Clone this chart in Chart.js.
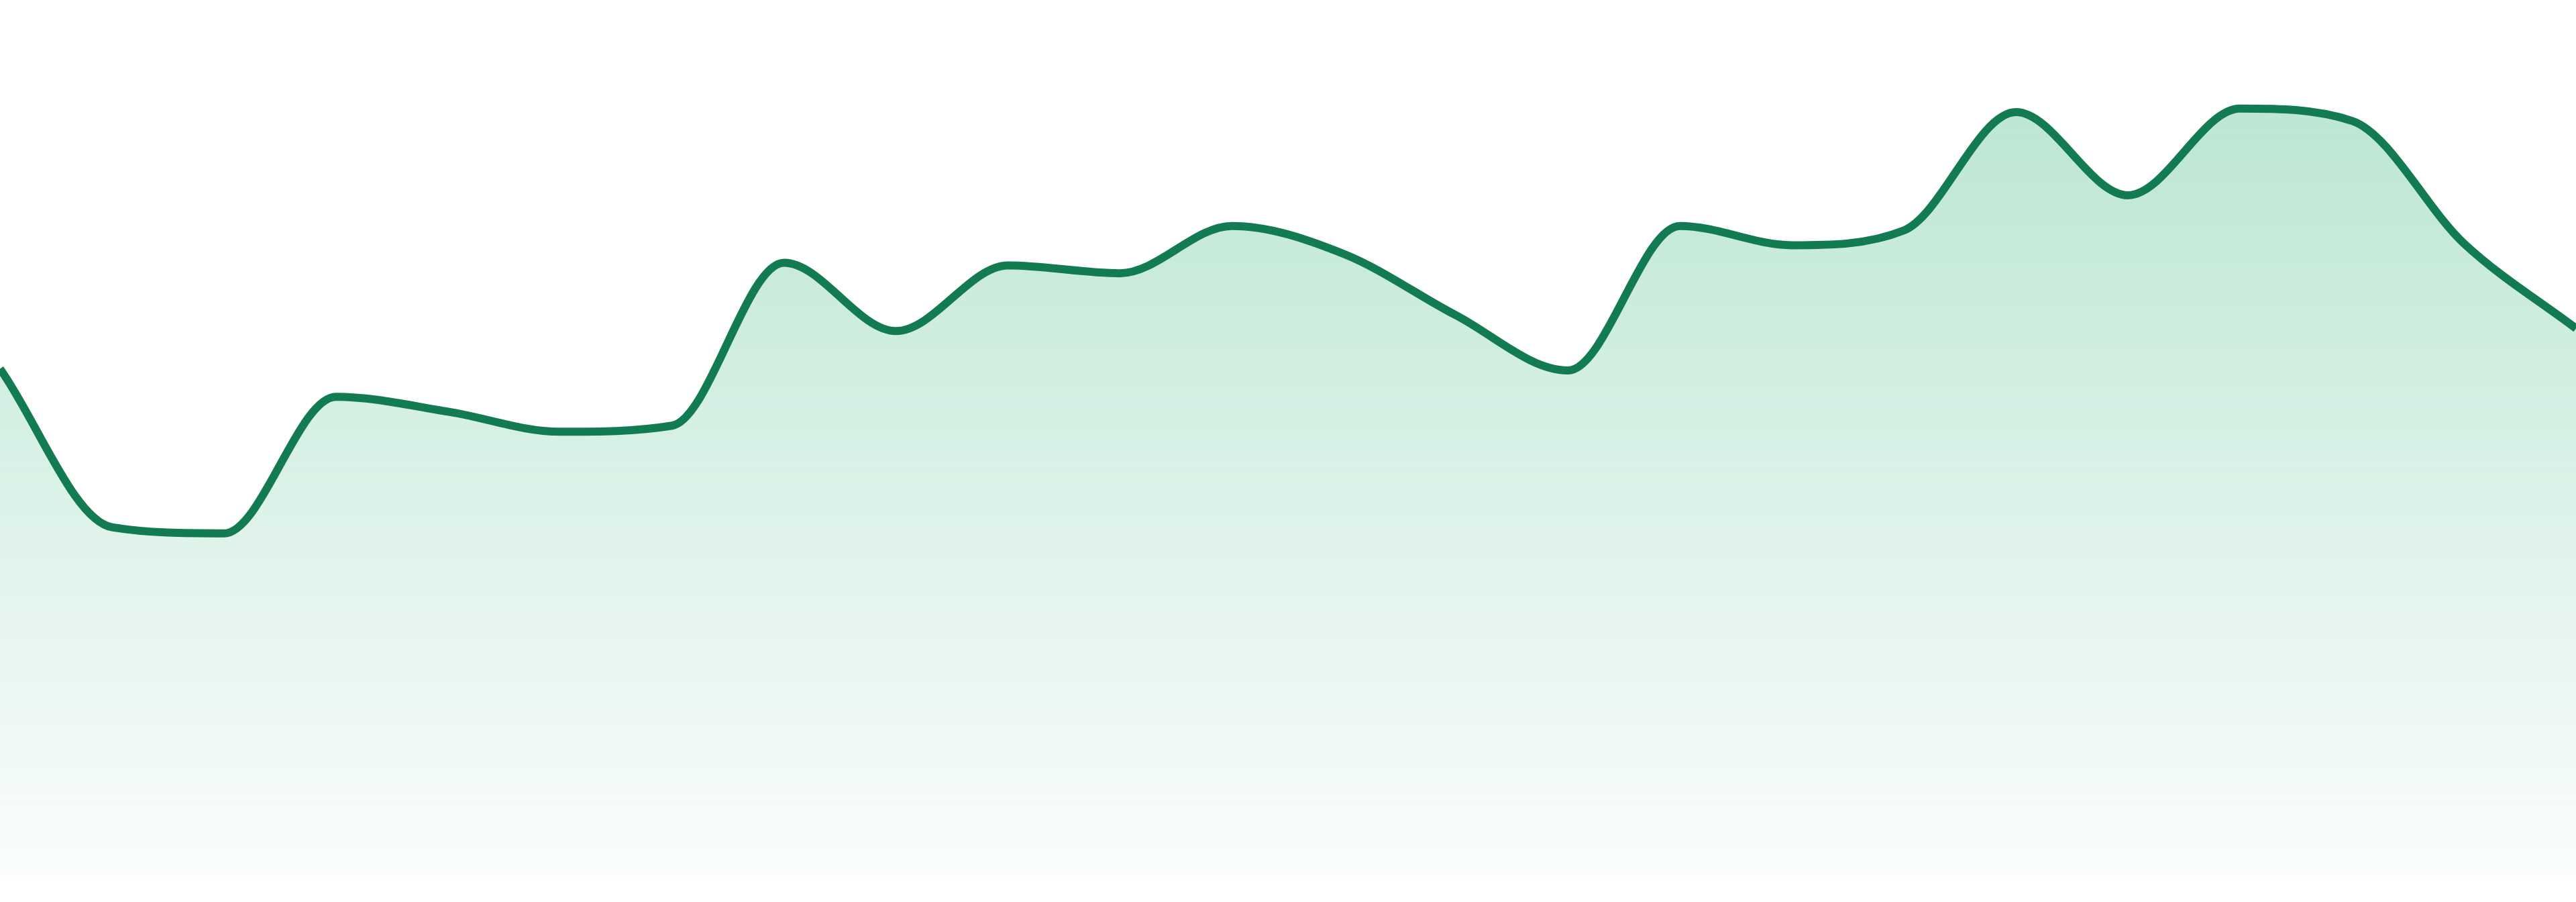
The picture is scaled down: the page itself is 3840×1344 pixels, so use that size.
<!DOCTYPE html>
<html>
<head>
<meta charset="utf-8">
<script src="https://cdn.jsdelivr.net/npm/chart.js@4.4.1/dist/chart.umd.min.js"></script>
<style>
  html, body { margin: 0; padding: 0; background: #ffffff; }
  #wrap { width: 3840px; height: 1344px; position: relative; }
</style>
</head>
<body>
<div id="wrap"><canvas id="areaChart"></canvas></div>
<script>
// Points along the line, left to right (no axes shown, so units are relative 0-100)
const labels = ['1', '2', '3', '4', '5', '6', '7', '8', '9', '10', '11', '12',
                '13', '14', '15', '16', '17', '18', '19', '20', '21', '22', '23', '24'];
const values = [57.9, 39.8, 39.1, 54.7, 53.0, 50.7, 51.4, 70.0, 62.2, 69.7, 68.8, 74.2,
                71.0, 64.0, 57.7, 74.2, 72.0, 73.7, 87.2, 77.7, 87.6, 86.2, 72.2, 62.5];
const yMin = 0;
const yMax = 100;

const lineColor = 'rgb(18, 123, 82)';

// vertical fade for the area under the line
function areaGradient(context) {
  const chart = context.chart;
  const area = chart.chartArea;
  if (!area) return 'rgba(26,170,105,0.2)';
  const g = chart.ctx.createLinearGradient(0, area.top, 0, area.bottom);
  g.addColorStop(0, 'rgba(26, 170, 105, 0.33)');
  g.addColorStop(1, 'rgba(26, 170, 105, 0.02)');
  return g;
}

const ctx = document.getElementById('areaChart');

const areaChart = new Chart(ctx, {
  type: 'line',
  data: {
    labels: labels,
    datasets: [{
      data: values,
      borderColor: lineColor,
      borderWidth: 12,
      backgroundColor: areaGradient,
      fill: 'start',
      pointRadius: 0,
      pointHoverRadius: 0,
      cubicInterpolationMode: 'monotone'
    }]
  },
  options: {
    responsive: true,
    maintainAspectRatio: false,
    devicePixelRatio: 1,
    animation: false,
    layout: { padding: { top: 0, bottom: 39, left: 0, right: 0 } },
    plugins: {
      legend: { display: false },
      tooltip: { enabled: false }
    },
    scales: {
      x: { display: false },
      y: { display: false, min: yMin, max: yMax }
    }
  }
});
</script>
</body>
</html>
